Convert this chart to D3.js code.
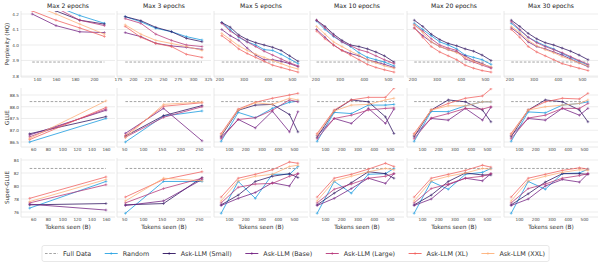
<!DOCTYPE html>
<html><head><meta charset="utf-8">
<script src="https://cdn.jsdelivr.net/npm/d3@7"></script>
<style>body{margin:0;background:#fff;} svg{display:block;font-family:"DejaVu Sans",sans-serif;}</style>
</head><body><svg id="c" width="598" height="263"></svg>
<script>
// ---------- DATA ----------
const epochs = [2, 3, 5, 10, 20, 30];
const seriesNames = ["Random", "Ask-LLM (Small)", "Ask-LLM (Base)", "Ask-LLM (Large)", "Ask-LLM (XL)", "Ask-LLM (XXL)"];
const seriesColors = ["#2aa3e2", "#2c115f", "#721f81", "#b73779", "#f1605d", "#feb078"];
const fullColor = "#9a9a9a";

// Perplexity (HQ)
const pplTokens = [
  [135, 160, 185, 211],
  [187, 213, 238, 264, 289, 315],
  [210, 245, 280, 315, 350, 385, 420, 455, 490, 525],
  [205, 240, 275, 310, 345, 380, 415, 450, 485, 525],
  [208, 243, 278, 313, 348, 383, 418, 453, 488, 525],
  [208, 243, 278, 313, 348, 383, 418, 453, 488, 525]
];
const pplFull = 3.89;
const pplRandom = [
  [4.30, 4.25, 4.19, 4.14],
  [4.183, 4.15, 4.108, 4.086, 4.054, 4.032],
  [4.145, 4.10, 4.05, 4.02, 4.00, 3.97, 3.965, 3.94, 3.91, 3.88],
  [4.155, 4.10, 4.055, 4.02, 3.99, 3.95, 3.92, 3.905, 3.89, 3.865],
  [4.14, 4.10, 4.06, 4.02, 4.0, 3.975, 3.935, 3.92, 3.905, 3.875],
  [4.14, 4.095, 4.05, 4.02, 3.995, 3.975, 3.945, 3.92, 3.895, 3.87]
];
const pplSmall = [
  [4.28, 4.22, 4.16, 4.135],
  [4.183, 4.157, 4.114, 4.086, 4.043, 4.021],
  [4.145, 4.115, 4.065, 4.035, 4.015, 4.00, 3.985, 3.965, 3.93, 3.895],
  [4.16, 4.12, 4.07, 4.03, 4.00, 3.99, 3.975, 3.955, 3.93, 3.89],
  [4.16, 4.12, 4.07, 4.035, 4.01, 3.995, 3.975, 3.96, 3.935, 3.90],
  [4.16, 4.12, 4.075, 4.04, 4.015, 4.0, 3.98, 3.96, 3.935, 3.905]
];
const pplBase = [
  [4.20, 4.125, 4.085, 4.08],
  [4.08, 4.054, 4.011, 3.994, 3.985, 3.972],
  [4.10, 4.06, 4.03, 3.98, 3.935, 3.905, 3.905, 3.895, 3.88, 3.86],
  [4.10, 4.05, 4.0, 3.965, 3.945, 3.93, 3.905, 3.89, 3.875, 3.855],
  [4.11, 4.06, 4.02, 3.99, 3.97, 3.955, 3.93, 3.90, 3.88, 3.855],
  [4.11, 4.07, 4.02, 3.99, 3.975, 3.955, 3.935, 3.91, 3.885, 3.86]
];
const pplLarge = [
  [4.30, 4.24, 4.16, 4.125],
  [4.17, 4.14, 4.07, 4.03, 4.0, 3.99],
  [4.14, 4.09, 4.055, 4.02, 3.99, 3.96, 3.935, 3.91, 3.885, 3.865],
  [4.16, 4.11, 4.06, 4.02, 3.995, 3.97, 3.955, 3.93, 3.905, 3.88],
  [4.13, 4.09, 4.04, 4.0, 3.98, 3.965, 3.91, 3.89, 3.87, 3.85],
  [4.15, 4.10, 4.05, 4.015, 3.99, 3.97, 3.95, 3.925, 3.9, 3.875]
];
const pplXL = [
  [4.22, 4.16, 4.11, 4.055],
  [4.12, 4.05, 4.01, 3.99, 3.94, 3.92],
  [4.06, 4.02, 3.975, 3.945, 3.92, 3.895, 3.87, 3.855, 3.84, 3.825],
  [4.09, 4.04, 4.0, 3.965, 3.935, 3.905, 3.875, 3.855, 3.84, 3.825],
  [4.11, 4.05, 3.99, 3.955, 3.93, 3.905, 3.87, 3.85, 3.835, 3.825],
  [4.10, 4.05, 3.99, 3.955, 3.93, 3.905, 3.88, 3.865, 3.85, 3.835]
];
const pplXXL = [
  [4.26, 4.20, 4.135, 4.07],
  [4.13, 4.07, 4.03, 4.01, 3.99, 3.965],
  [4.075, 4.035, 3.995, 3.965, 3.94, 3.92, 3.90, 3.88, 3.86, 3.845],
  [4.12, 4.07, 4.02, 3.99, 3.96, 3.935, 3.905, 3.885, 3.865, 3.85],
  [4.13, 4.08, 4.02, 3.99, 3.97, 3.95, 3.92, 3.895, 3.875, 3.86],
  [4.12, 4.08, 4.03, 3.995, 3.97, 3.95, 3.925, 3.905, 3.885, 3.865]
];

// GLUE and Super-GLUE share the checkpoints
const evalTokens = [
  [55, 160],
  [53, 155, 258],
  [52, 157, 262, 367, 472, 524],
  [52, 157, 262, 367, 472, 524],
  [52, 157, 262, 367, 472, 524],
  [52, 157, 262, 367, 472, 524]
];
const glueFull = 88.22;
const glueRandom = [
  [86.5, 87.5], [86.5, 87.6, 87.82],
  [86.53, 87.76, 87.53, 87.93, 88.19, 88.24],
  [86.53, 87.76, 87.71, 88.07, 88.07, 88.1],
  [86.53, 87.8, 87.79, 88.04, 88.21, 88.21],
  [86.53, 87.78, 87.74, 88.07, 88.14, 88.21]
];
const glueSmall = [
  [86.85, 87.58], [86.75, 87.62, 88.05],
  [86.75, 87.85, 88.07, 88.1, 87.67, 86.93],
  [86.7, 87.82, 88.29, 88.21, 87.57, 86.86],
  [86.72, 87.86, 88.29, 88.21, 87.86, 87.36],
  [86.72, 87.86, 88.29, 88.21, 87.86, 87.36]
];
const glueBase = [
  [86.8, 87.85], [86.87, 87.93, 86.55],
  [86.7, 87.46, 87.1, 87.81, 86.93, 87.79],
  [86.78, 87.5, 87.29, 87.93, 87.29, 87.9],
  [86.78, 87.5, 87.43, 87.93, 87.43, 87.98],
  [86.78, 87.5, 87.43, 87.93, 87.64, 87.93]
];
const glueLarge = [
  [86.72, 87.9], [86.7, 87.55, 88.0],
  [86.64, 87.46, 87.53, 87.85, 88.29, 88.21],
  [86.64, 87.5, 87.64, 87.86, 87.93, 87.95],
  [86.64, 87.52, 87.71, 87.93, 87.9, 88.0],
  [86.64, 87.52, 87.64, 87.93, 87.93, 88.14]
];
const glueXL = [
  [86.6, 87.97], [86.78, 88.02, 88.17],
  [86.86, 87.9, 88.19, 88.36, 88.5, 88.57],
  [86.86, 87.86, 88.29, 88.4, 88.4, 88.79],
  [86.86, 87.86, 88.14, 88.36, 88.46, 88.76],
  [86.86, 87.86, 88.21, 88.36, 88.33, 88.57]
];
const glueXXL = [
  [86.65, 88.25], [86.68, 88.1, 88.2],
  [86.8, 87.86, 88.17, 88.1, 88.36, 88.29],
  [86.8, 87.82, 88.07, 88.1, 88.29, 88.36],
  [86.8, 87.86, 88.04, 88.04, 88.21, 88.21],
  [86.8, 87.86, 88.0, 88.07, 88.14, 88.29]
];

const sglueFull = 82.7;
const sglueRandom = [
  [76.6, 80.7], [75.8, 80.7, 80.7],
  [75.8, 80.7, 78.1, 81.8, 81.8, 83.0],
  [75.8, 80.7, 78.9, 81.8, 81.9, 82.7],
  [75.8, 80.7, 79.5, 81.8, 82.1, 82.7],
  [75.8, 80.7, 79.5, 81.9, 82.0, 82.6]
];
const sglueSmall = [
  [77.1, 77.3], [77.1, 77.3, 81.3],
  [77.1, 78.6, 80.7, 81.5, 81.9, 81.3],
  [77.1, 78.9, 80.5, 82.2, 81.9, 81.2],
  [77.1, 78.6, 80.7, 82.0, 81.7, 81.7],
  [77.1, 78.8, 80.6, 81.9, 81.9, 81.8]
];
const sglueBase = [
  [77.2, 76.3], [77.0, 77.7, 81.0],
  [77.0, 78.1, 79.0, 80.5, 80.0, 81.9],
  [77.0, 78.1, 79.6, 81.2, 80.4, 81.9],
  [77.0, 78.0, 80.2, 81.2, 80.8, 81.9],
  [77.0, 78.0, 80.0, 81.0, 80.6, 81.9]
];
const sglueLarge = [
  [77.4, 80.2], [77.4, 79.6, 81.2],
  [77.4, 79.8, 80.3, 80.4, 81.5, 81.9],
  [77.4, 79.5, 80.3, 81.2, 81.5, 81.9],
  [77.4, 79.6, 80.3, 81.2, 81.5, 81.9],
  [77.4, 79.6, 80.3, 81.2, 81.6, 81.9]
];
const sglueXL = [
  [78.1, 81.4], [78.3, 81.0, 82.2],
  [78.3, 81.2, 81.8, 82.5, 83.7, 83.5],
  [78.3, 81.2, 81.8, 82.6, 83.5, 83.0],
  [78.3, 81.2, 81.8, 82.4, 83.2, 82.9],
  [78.3, 81.2, 81.8, 82.4, 82.8, 82.6]
];
const sglueXXL = [
  [77.6, 81.0], [77.7, 81.2, 80.8],
  [77.7, 80.8, 81.5, 81.8, 83.0, 83.2],
  [77.7, 80.8, 81.5, 82.2, 82.7, 82.5],
  [77.7, 80.8, 81.5, 82.0, 82.7, 82.6],
  [77.7, 80.8, 81.5, 82.1, 82.5, 82.4]
];

// tick labels
const pplYTicks = [3.8, 3.9, 4.0, 4.1, 4.2];
const glueYTicks = [86.5, 87.0, 87.5, 88.0, 88.5];
const sglueYTicks = [76, 78, 80, 82, 84];
const pplXTicks = [[140, 160, 180, 200], [175, 200, 225, 250, 275, 300, 325], [200, 300, 400, 500], [200, 300, 400, 500], [200, 300, 400, 500], [200, 300, 400, 500]];
const evalXTicks = [[60, 80, 100, 120, 140, 160], [50, 100, 150, 200, 250], [100, 200, 300, 400, 500], [100, 200, 300, 400, 500], [100, 200, 300, 400, 500], [100, 200, 300, 400, 500]];

// scale domains (axis limits)
const pplXLim = [[123.2, 222.1], [173.3, 330], [178, 566], [178, 566], [178, 566], [178, 566]];
const evalXLim = [[43.1, 172.4], [30.5, 282], [8, 586], [8, 586], [8, 586], [8, 586]];
const pplYLim = [3.7935, 4.2194];
const glueYLim = [86.287, 88.798];
const sglueYLim = [75.23, 84.31];

// ---------- LAYOUT ----------
const colLeft = [21, 117, 214, 310, 407, 504];
const panelW = 94;
const rowBox = [[11, 77], [88, 147], [158, 217]];

const rows = [
  {label: "Perplexity (HQ)", tokens: pplTokens, series: [pplRandom, pplSmall, pplBase, pplLarge, pplXL, pplXXL], full: pplFull, yTicks: pplYTicks, xTicks: pplXTicks, xLim: pplXLim, yLim: pplYLim, fmt: d3.format(".1f")},
  {label: "GLUE", tokens: evalTokens, series: [glueRandom, glueSmall, glueBase, glueLarge, glueXL, glueXXL], full: glueFull, yTicks: glueYTicks, xTicks: evalXTicks, xLim: evalXLim, yLim: glueYLim, fmt: d3.format(".1f")},
  {label: "Super-GLUE", tokens: evalTokens, series: [sglueRandom, sglueSmall, sglueBase, sglueLarge, sglueXL, sglueXXL], full: sglueFull, yTicks: sglueYTicks, xTicks: evalXTicks, xLim: evalXLim, yLim: sglueYLim, fmt: d3.format("d")}
];

const svg = d3.select("#c");
const defs = svg.append("defs");

function plusMarker(g, x, y, color) {
  g.append("path").attr("d", `M${x - 1.4},${y}H${x + 1.4}M${x},${y - 1.4}V${y + 1.4}`)
    .attr("stroke", color).attr("stroke-width", 0.6).attr("fill", "none");
}

rows.forEach((row, ri) => {
  const [top, bot] = rowBox[ri];
  const y = d3.scaleLinear().domain(row.yLim).range([bot, top]);
  svg.append("text").attr("transform", `translate(8.5,${(top + bot) / 2}) rotate(-90)`)
    .attr("text-anchor", "middle").attr("font-size", 5.6).attr("fill", "#333").text(row.label);

  epochs.forEach((ep, ci) => {
    const L = colLeft[ci];
    const x = d3.scaleLinear().domain(row.xLim[ci]).range([L, L + panelW]);
    const g = svg.append("g");
    const clipId = `clip-${ri}-${ci}`;
    defs.append("clipPath").attr("id", clipId).append("rect")
      .attr("x", L).attr("y", top).attr("width", panelW).attr("height", bot - top);

    g.selectAll(".grid").data(row.yTicks.filter(t => y(t) >= top - 0.5 && y(t) <= bot + 0.5)).enter()
      .append("line").attr("x1", L).attr("x2", L + panelW)
      .attr("y1", d => y(d)).attr("y2", d => y(d))
      .attr("stroke", "#e9e9e9").attr("stroke-width", 0.8);
    g.append("line").attr("x1", L).attr("x2", L).attr("y1", top).attr("y2", bot).attr("stroke", "#e2e2e2").attr("stroke-width", 0.8);
    g.append("line").attr("x1", L).attr("x2", L + panelW).attr("y1", bot).attr("y2", bot).attr("stroke", "#e2e2e2").attr("stroke-width", 0.8);

    const xAxis = d3.axisBottom(x).tickValues(row.xTicks[ci]).tickSize(0).tickPadding(0).tickFormat(d3.format("d"));
    const ax = g.append("g").attr("transform", `translate(0,${bot + 1.2})`).call(xAxis);
    ax.select(".domain").remove();
    ax.selectAll("text").attr("font-size", 4.2).attr("fill", "#444").attr("font-family", "DejaVu Sans");

    if (ci === 0) {
      const yAxis = d3.axisLeft(y).tickValues(row.yTicks).tickSize(0).tickPadding(2).tickFormat(row.fmt);
      const ay = g.append("g").attr("transform", `translate(${L},0)`).call(yAxis);
      ay.select(".domain").remove();
      ay.selectAll("text").attr("font-size", 4.2).attr("fill", "#444").attr("font-family", "DejaVu Sans");
    }

    if (ri === 0) {
      svg.append("text").attr("x", L + panelW / 2).attr("y", 7.6).attr("text-anchor", "middle")
        .attr("font-size", 6.1).attr("fill", "#222").text(`Max ${ep} epochs`);
    }
    if (ri === 2) {
      svg.append("text").attr("x", L + panelW / 2).attr("y", 229).attr("text-anchor", "middle")
        .attr("font-size", 5.8).attr("fill", "#333").text("Tokens seen (B)");
    }

    const plot = g.append("g").attr("clip-path", `url(#${clipId})`);
    const toks = row.tokens[ci];
    plot.append("line").attr("x1", x(toks[0])).attr("x2", x(toks[toks.length - 1]))
      .attr("y1", y(row.full)).attr("y2", y(row.full))
      .attr("stroke", fullColor).attr("stroke-width", 0.9).attr("stroke-dasharray", "2.6,1.6");

    const line = d3.line().x((d, i) => x(toks[i])).y(d => y(d));
    row.series.forEach((s, si) => {
      const vals = s[ci];
      const sg = plot.append("g").attr("opacity", si === 0 ? 0.95 : 0.85);
      sg.append("path").attr("d", line(vals)).attr("fill", "none")
        .attr("stroke", seriesColors[si]).attr("stroke-width", 0.9);
      vals.forEach((v, i) => plusMarker(sg, x(toks[i]), y(v), seriesColors[si]));
    });
  });
});

// ---------- LEGEND ----------
const leg = svg.append("g");
const legBox = leg.append("rect").attr("x", 42).attr("y", 245.5).attr("height", 16).attr("rx", 2)
  .attr("fill", "#fff").attr("stroke", "#dedede").attr("stroke-width", 0.7);
const legItems = [{name: "Full Data", color: fullColor, dash: true}].concat(seriesNames.map((n, i) => ({name: n, color: seriesColors[i], dash: false})));
let lx = 45;
const ly = 253.5;
legItems.forEach(it => {
  const lg = leg.append("g");
  lg.append("line").attr("x1", lx).attr("x2", lx + 13).attr("y1", ly).attr("y2", ly)
    .attr("stroke", it.color).attr("stroke-width", 0.9).attr("stroke-dasharray", it.dash ? "2.6,1.6" : null);
  if (!it.dash) plusMarker(lg, lx + 6.5, ly, it.color);
  const t = lg.append("text").attr("x", lx + 18).attr("y", ly + 2.2).attr("font-size", 6.4).attr("fill", "#333").text(it.name);
  lx += 18 + t.node().getComputedTextLength() + 13.5;
});
legBox.attr("width", lx - 13.5 + 4 - 42);
</script></body></html>
